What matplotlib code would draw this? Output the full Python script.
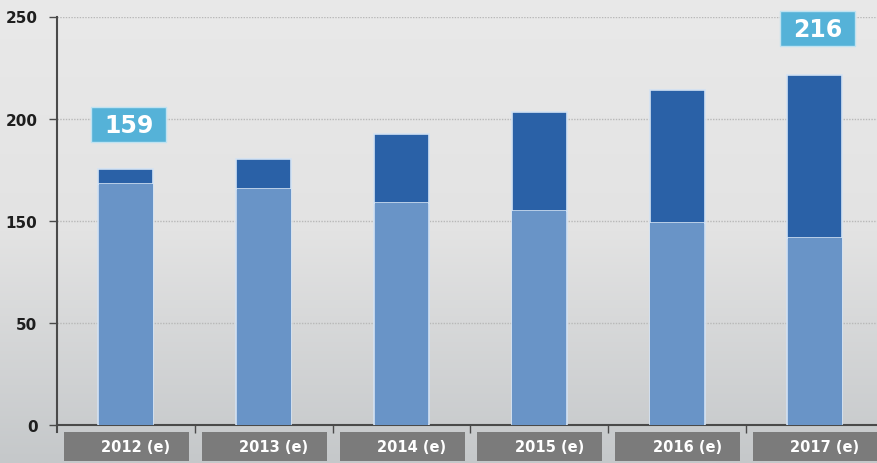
import numpy as np
import matplotlib
matplotlib.use("Agg")
import matplotlib.pyplot as plt

# values (y in the chart's own positional scale, 0..250)
years = ["2012 (e)", "2013 (e)", "2014 (e)", "2015 (e)", "2016 (e)", "2017 (e)"]
base = [147.7, 144.2, 136.0, 130.9, 123.6, 114.6]
total = [156.4, 163.0, 178.3, 191.6, 204.8, 214.5]
top = [t - b for t, b in zip(total, base)]

ytick_pos = [0, 62.5, 125, 187.5, 250]
ytick_lab = ["0", "50", "150", "200", "250"]

callouts = [(0, 184.0, "159"), (5, 242.6, "216")]

W, H = 878, 464
PX_X = 137.8   # pixels per category
PX_Y = 1.632   # pixels per y unit

fig = plt.figure(figsize=(W / 100, H / 100), dpi=100)

# background gradient
bg = fig.add_axes([0, 0, 1, 1], zorder=-10)
grad = np.linspace(0, 1, 256).reshape(-1, 1)
bg.imshow(grad, aspect="auto", cmap=matplotlib.colors.LinearSegmentedColormap.from_list(
    "bg", ["#e9e9e9", "#e3e3e3", "#c5c8ca"]), extent=[0, 1, 0, 1])
bg.axis("off")

left, right = 57 / W, 1.0
bottom, topf = 1 - 426 / H, 1 - 17.5 / H
ax = fig.add_axes([left, bottom, right - left, topf - bottom])
ax.patch.set_alpha(0)

x = np.arange(len(years))
bw = 55 / PX_X
ax.bar(x, base, width=bw, color="#6994c7", edgecolor="#d3e2f3", linewidth=1.2, zorder=3)
ax.bar(x, top, bottom=base, width=bw, color="#2a61a7", edgecolor="#d3e2f3", linewidth=1.2, zorder=3)
ax.bar(x, base, width=bw - 0.01, color="#6994c7", linewidth=0, zorder=4)

ax.set_xlim(-0.5, -0.5 + (W - 57) / PX_X)
ax.set_ylim(0, 250)

ax.set_yticks(ytick_pos, ytick_lab)
for y in ytick_pos[1:]:
    ax.axhline(y, color="#b8b8b8", lw=1, ls=(0, (1, 1)), zorder=1)

for s in ["top", "right"]:
    ax.spines[s].set_visible(False)
for s in ["left", "bottom"]:
    ax.spines[s].set_color("#4a4a4a")
    ax.spines[s].set_linewidth(1.5)
ax.spines["left"].set_bounds(-4, 250)

ax.tick_params(axis="y", length=6, width=1, color="#4a4a4a", pad=8,
               labelsize=11, labelcolor="#1e1e1e")
for lab in ax.get_yticklabels():
    lab.set_fontweight("bold")

ax.set_xticks(x[:-1] + 0.5)
ax.set_xticklabels([])
ax.tick_params(axis="x", length=6, width=1, color="#4a4a4a", direction="out")

# category label boxes under the axis
for i, name in enumerate(years):
    x0 = -0.5 + i + 7 / PX_X
    rect = plt.Rectangle((x0, -7 / PX_Y - 29 / PX_Y), 125 / PX_X, 29 / PX_Y,
                         transform=ax.transData, facecolor="#7b7b7b", edgecolor="none",
                         clip_on=False, zorder=5)
    ax.add_patch(rect)
    ax.text(i + 10 / PX_X, -7 / PX_Y - 14.5 / PX_Y, name, ha="center", va="center",
            color="white", fontsize=10.5, fontweight="bold", zorder=6, clip_on=False)

# value callouts
for i, y, label in callouts:
    cx = i + 3 / PX_X
    rect = plt.Rectangle((cx - 37.5 / PX_X, y - 17.5 / PX_Y), 75 / PX_X, 35 / PX_Y,
                         facecolor="#55b2d8", edgecolor="#bfe2f1", linewidth=1,
                         clip_on=False, zorder=7)
    ax.add_patch(rect)
    ax.text(cx, y - 0.5, label, ha="center", va="center", color="white",
            fontsize=17, fontweight="bold", zorder=8, clip_on=False)

fig.savefig("out.png", dpi=100)
